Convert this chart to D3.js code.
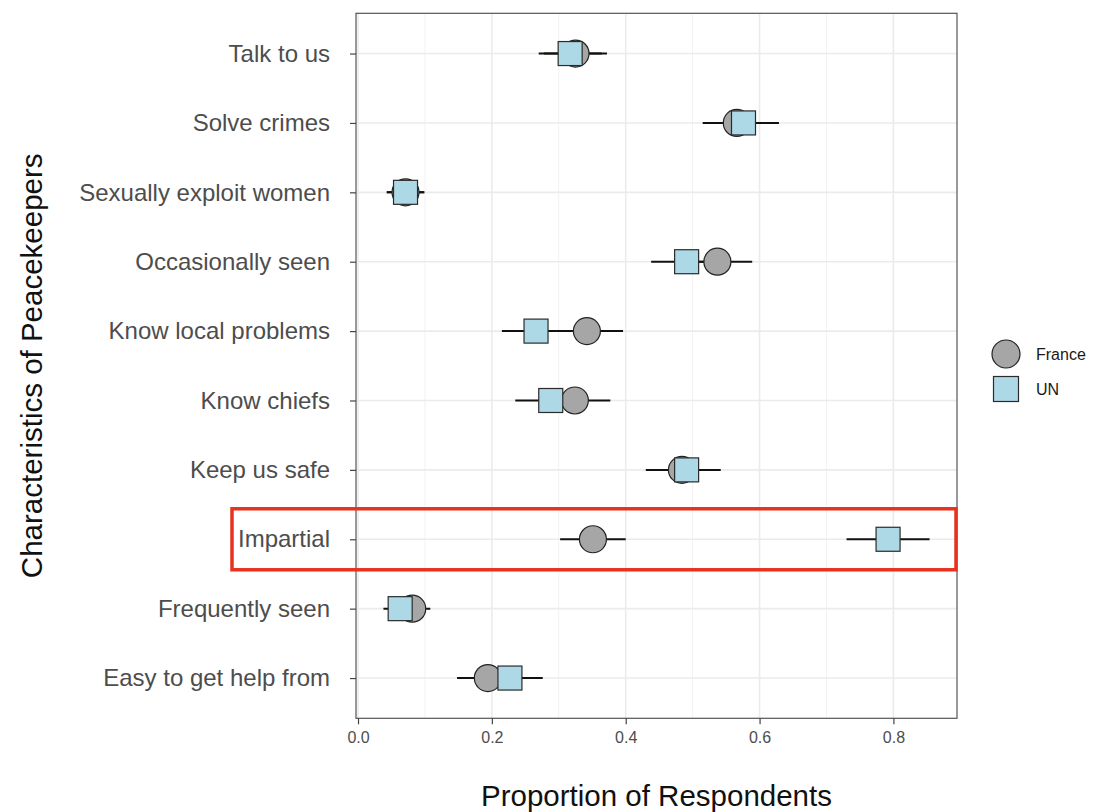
<!DOCTYPE html>
<html>
<head>
<meta charset="utf-8">
<script src="https://cdn.jsdelivr.net/npm/d3@7"></script>
<style>
  html, body { margin: 0; padding: 0; background: #fff; }
  svg { display: block; font-family: "Liberation Sans", Arial, Helvetica, sans-serif; }
</style>
</head>
<body>
<svg id="chart" width="1094" height="812"></svg>
<script>
// ---- data ----
const categories = [
  "Talk to us", "Solve crimes", "Sexually exploit women", "Occasionally seen",
  "Know local problems", "Know chiefs", "Keep us safe", "Impartial",
  "Frequently seen", "Easy to get help from"
];
const franceVals = [0.325, 0.566, 0.071, 0.537, 0.342, 0.324, 0.484, 0.351, 0.081, 0.194];
const franceLo   = [0.278, 0.515, 0.043, 0.485, 0.288, 0.271, 0.430, 0.302, 0.054, 0.148];
const franceHi   = [0.372, 0.617, 0.099, 0.589, 0.396, 0.377, 0.538, 0.400, 0.108, 0.240];
const unVals     = [0.317, 0.576, 0.071, 0.491, 0.266, 0.288, 0.491, 0.792, 0.063, 0.227];
const unLo       = [0.270, 0.523, 0.043, 0.438, 0.215, 0.235, 0.440, 0.730, 0.038, 0.178];
const unHi       = [0.364, 0.629, 0.099, 0.544, 0.317, 0.341, 0.542, 0.854, 0.088, 0.276];
const xTicks = [0, 0.2, 0.4, 0.6, 0.8];
const xMinorTicks = [0.1, 0.3, 0.5, 0.7];
const seriesNames = ["France", "UN"];
const highlightCategory = "Impartial";

// ---- layout ----
const svg = d3.select("#chart");
const panel = { left: 356, right: 957, top: 13.3, bottom: 718.3 };

const x = d3.scaleLinear().domain([-0.003, 0.895]).range([panel.left, panel.right]);
const y = d3.scalePoint().domain(categories).range([panel.top, panel.bottom]).padding(0.58);

const circleFill = "#a6a6a6";
const squareFill = "#add8e6";
const circleR = 13.5;
const sq = 24;

// panel background
svg.append("rect")
  .attr("x", panel.left).attr("y", panel.top)
  .attr("width", panel.right - panel.left).attr("height", panel.bottom - panel.top)
  .attr("fill", "#fff");

// grid
const grid = svg.append("g");
grid.selectAll("line.minor").data(xMinorTicks).join("line")
  .attr("x1", d => x(d)).attr("x2", d => x(d))
  .attr("y1", panel.top).attr("y2", panel.bottom)
  .attr("stroke", "#f2f2f2").attr("stroke-width", 1);
grid.selectAll("line.majorx").data(xTicks).join("line")
  .attr("x1", d => x(d)).attr("x2", d => x(d))
  .attr("y1", panel.top).attr("y2", panel.bottom)
  .attr("stroke", "#ebebeb").attr("stroke-width", 1.6);
grid.selectAll("line.majory").data(categories).join("line")
  .attr("x1", panel.left).attr("x2", panel.right)
  .attr("y1", d => y(d)).attr("y2", d => y(d))
  .attr("stroke", "#ebebeb").attr("stroke-width", 1.6);

// rows
const rows = categories.map((c, i) => ({
  cat: c,
  fr: franceVals[i], frLo: franceLo[i], frHi: franceHi[i],
  un: unVals[i], unLo: unLo[i], unHi: unHi[i]
}));

const eb = svg.append("g");
eb.selectAll("line.fr").data(rows).join("line")
  .attr("x1", d => x(d.frLo)).attr("x2", d => x(d.frHi))
  .attr("y1", d => y(d.cat)).attr("y2", d => y(d.cat))
  .attr("stroke", "#111").attr("stroke-width", 2);
eb.selectAll("line.un").data(rows).join("line")
  .attr("x1", d => x(d.unLo)).attr("x2", d => x(d.unHi))
  .attr("y1", d => y(d.cat)).attr("y2", d => y(d.cat))
  .attr("stroke", "#111").attr("stroke-width", 2);

svg.append("g").selectAll("circle").data(rows).join("circle")
  .attr("cx", d => x(d.fr)).attr("cy", d => y(d.cat)).attr("r", circleR)
  .attr("fill", circleFill).attr("stroke", "#222").attr("stroke-width", 1.2);

svg.append("g").selectAll("rect").data(rows).join("rect")
  .attr("x", d => x(d.un) - sq / 2).attr("y", d => y(d.cat) - sq / 2)
  .attr("width", sq).attr("height", sq)
  .attr("fill", squareFill).attr("stroke", "#2b2b2b").attr("stroke-width", 1.2);

// panel border
svg.append("rect")
  .attr("x", panel.left).attr("y", panel.top)
  .attr("width", panel.right - panel.left).attr("height", panel.bottom - panel.top)
  .attr("fill", "none").attr("stroke", "#555").attr("stroke-width", 1.2);

// axes
const xAxis = svg.append("g")
  .attr("transform", `translate(0,${panel.bottom})`)
  .call(d3.axisBottom(x).tickValues(xTicks).tickFormat(d3.format(".1f")).tickSize(6).tickPadding(7));
xAxis.select(".domain").remove();
xAxis.selectAll(".tick line").attr("stroke", "#444").attr("stroke-width", 1.2);
xAxis.selectAll(".tick text").attr("fill", "#4d4d4d").style("font-size", "16px")
  .style("font-family", "'Liberation Sans', Arial, sans-serif");

const yAxis = svg.append("g")
  .attr("transform", `translate(${panel.left},0)`)
  .call(d3.axisLeft(y).tickSize(6).tickPadding(20));
yAxis.select(".domain").remove();
yAxis.selectAll(".tick line").attr("stroke", "#444").attr("stroke-width", 1.2);
yAxis.selectAll(".tick text").attr("fill", "#4d4d4d").style("font-size", "24px")
  .style("font-family", "'Liberation Sans', Arial, sans-serif");

// axis titles
svg.append("text")
  .attr("x", (panel.left + panel.right) / 2).attr("y", 806)
  .attr("text-anchor", "middle").attr("fill", "#111")
  .style("font-size", "29.5px")
  .text("Proportion of Respondents");

svg.append("text")
  .attr("transform", `translate(42,${(panel.top + panel.bottom) / 2}) rotate(-90)`)
  .attr("text-anchor", "middle").attr("fill", "#111")
  .style("font-size", "29.5px")
  .text("Characteristics of Peacekeepers");

// legend
const legend = svg.append("g").attr("transform", "translate(1006,0)");
legend.append("circle").attr("cx", 0).attr("cy", 354).attr("r", 14)
  .attr("fill", circleFill).attr("stroke", "#222").attr("stroke-width", 1.2);
legend.append("rect").attr("x", -12.5).attr("y", 376.5).attr("width", 25).attr("height", 25)
  .attr("fill", squareFill).attr("stroke", "#2b2b2b").attr("stroke-width", 1.2);
legend.selectAll("text").data(seriesNames).join("text")
  .attr("x", 30).attr("y", (d, i) => 354 + i * 35)
  .attr("dy", "0.35em").attr("fill", "#1a1a1a").style("font-size", "16px")
  .text(d => d);

// highlight box
const hy = y(highlightCategory);
svg.append("rect")
  .attr("x", 232).attr("y", hy - 30.5)
  .attr("width", panel.right - 1 - 232).attr("height", 61)
  .attr("fill", "none").attr("stroke", "#e8321e").attr("stroke-width", 3.5);
</script>
</body>
</html>
